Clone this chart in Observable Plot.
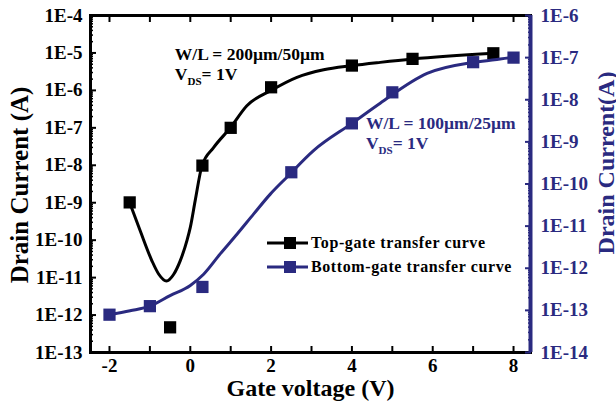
<!DOCTYPE html>
<html><head><meta charset="utf-8">
<script src="https://cdn.jsdelivr.net/npm/d3@7"></script>
<script src="https://cdn.jsdelivr.net/npm/@observablehq/plot@0.6"></script>
<style>
html,body{margin:0;padding:0;background:#fff;}
#chart{position:relative;width:616px;height:410px;overflow:hidden;background:#fff;}
#chart svg{position:absolute;left:0;top:0;}
</style></head><body><div id="chart"></div>
<script>
// ---- data ----
const topGateV = [-1.5, -0.5, 0.3, 1.0, 2.0, 4.0, 5.5, 7.5];
const topGateI = [1.02e-9, 4.7e-13, 9.8e-9, 1.0e-7, 1.21e-6, 4.6e-6, 6.95e-6, 9.8e-6];
const topFitV = [-1.5, -1.24, -0.95, -0.78, -0.59, -0.41, -0.25, -0.08, 0.0, 0.12, 0.29, 0.58, 0.99, 1.4, 2.0, 2.64, 3.3, 4.0, 4.7, 5.5, 7.5];
const topFitI = [1.0e-9, 1.78e-10, 2.82e-11, 1.23e-11, 8.1e-12, 1.23e-11, 2.8e-11, 1.0e-10, 2.2e-10, 1.12e-9, 9.8e-9, 3.0e-8, 1.0e-7, 3.9e-7, 1.0e-6, 2.24e-6, 3.55e-6, 4.57e-6, 5.6e-6, 6.9e-6, 9.8e-6];

const bottomGateV = [-2, -1, 0.3, 2.5, 4.0, 5.0, 7.0, 8.0];
const bottomGateI = [7.9e-14, 1.26e-13, 3.6e-13, 1.9e-10, 2.75e-9, 1.5e-8, 7.8e-8, 1.0e-7];
const bottomFitV = [-2, -1.49, -1.0, -0.5, 0.0, 0.33, 0.74, 1.16, 1.57, 1.98, 2.39, 3.05, 4.0, 4.7, 5.86, 7.05, 7.67, 8.0];
const bottomFitI = [7.9e-14, 9.8e-14, 1.26e-13, 2.24e-13, 3.9e-13, 7.2e-13, 2.19e-12, 6.5e-12, 1.95e-11, 5.75e-11, 1.45e-10, 6.2e-10, 2.75e-9, 8.3e-9, 4.2e-8, 7.8e-8, 9.3e-8, 1.02e-7];

const xTicks = [-2, 0, 2, 4, 6, 8];
const xTickLabels = ["-2", "0", "2", "4", "6", "8"];
const xAllTicks = [-2, -1, 0, 1, 2, 3, 4, 5, 6, 7, 8];
const leftTicks = [1e-4, 1e-5, 1e-6, 1e-7, 1e-8, 1e-9, 1e-10, 1e-11, 1e-12, 1e-13];
const leftTickLabels = ["1E-4", "1E-5", "1E-6", "1E-7", "1E-8", "1E-9", "1E-10", "1E-11", "1E-12", "1E-13"];
const rightTicks = [1e-6, 1e-7, 1e-8, 1e-9, 1e-10, 1e-11, 1e-12, 1e-13, 1e-14];
const rightTickLabels = ["1E-6", "1E-7", "1E-8", "1E-9", "1E-10", "1E-11", "1E-12", "1E-13", "1E-14"];
const seriesNames = ["Top-gate transfer curve", "Bottom-gate transfer curve"];
const leftTitle = "Drain Current (A)";
const rightTitle = "Drain Current(A)";
const xTitle = "Gate voltage (V)";
const topNote = {line1: "W/L = 200\u00b5m/50\u00b5m", x: -0.37, y: 6.3e-6};
const bottomNote = {line1: "W/L = 100\u00b5m/25\u00b5m", x: 4.36, y: 1.95e-9};

// ---- layout / style ----
const W = 616, H = 410;
const M = {top: 15, right: 86, bottom: 58, left: 90};
const xDomain = [-2.47, 8.42];
const BLUE = "#2a2a80";
const FONT = "'Liberation Serif','Times New Roman',serif";

const minorOf = (majors) => {
  const out = [];
  for (const m of majors) for (let k = 2; k <= 9; k++) out.push(m * k);
  return out;
};
const leftMinor = minorOf(leftTicks.slice(1));
const rightMinor = minorOf(rightTicks.slice(1));
const fmtFrom = (ticks, labels) => d => {
  const i = ticks.findIndex(t => Math.abs(Math.log10(t) - Math.log10(d)) < 1e-6);
  return i < 0 ? "" : labels[i];
};

const topPts = topGateV.map((v, i) => ({v, I: topGateI[i]}));
const topFit = topFitV.map((v, i) => ({v, I: topFitI[i]}));
const botPts = bottomGateV.map((v, i) => ({v, I: bottomGateI[i]}));
const botFit = bottomFitV.map((v, i) => ({v, I: bottomFitI[i]}));

const common = {
  width: W, height: H,
  marginTop: M.top, marginRight: M.right, marginBottom: M.bottom, marginLeft: M.left
};

const p1 = Plot.plot({
  ...common,
  x: {domain: xDomain},
  y: {type: "log", domain: [1e-13, 1e-4]},
  style: {fontFamily: FONT, fontWeight: "bold", background: "transparent", color: "black", overflow: "visible"},
  marks: [
    Plot.axisX({ticks: xTicks, tickSize: 0, tickPadding: 6, fontSize: 19, tickFormat: d => xTickLabels[xTicks.indexOf(d)], label: null}),
    Plot.axisX({ticks: xAllTicks, tickSize: -6, strokeWidth: 2, tickFormat: () => "", label: null}),
    Plot.axisX({anchor: "top", ticks: xAllTicks, tickSize: -6, strokeWidth: 2, tickFormat: () => "", label: null}),
    Plot.axisY({ticks: leftTicks, tickSize: 0, tickPadding: 8, fontSize: 19, tickFormat: fmtFrom(leftTicks, leftTickLabels), label: null}),
    Plot.axisY({ticks: leftTicks, tickSize: -6, strokeWidth: 2, tickFormat: () => "", label: null}),
    Plot.axisY({ticks: leftMinor, tickSize: -3, strokeWidth: 1.5, tickFormat: () => "", label: null}),
    Plot.frame({stroke: "black", strokeWidth: 3}),
    Plot.line(topFit, {x: "v", y: "I", curve: "monotone-x", stroke: "black", strokeWidth: 3}),
    Plot.dot(topPts, {x: "v", y: "I", symbol: "square", r: 6.9, fill: "black"}),
    Plot.text([xTitle], {frameAnchor: "bottom", textAnchor: "middle", dy: 43, fontSize: 24, fill: "black"}),
    Plot.text([leftTitle], {frameAnchor: "left", textAnchor: "middle", rotate: -90, dx: -71, dy: 1, fontSize: 25, fill: "black"})
  ]
});

const p2 = Plot.plot({
  ...common,
  x: {domain: xDomain, axis: null},
  y: {type: "log", domain: [1e-14, 1e-6]},
  style: {fontFamily: FONT, fontWeight: "bold", background: "transparent", color: BLUE, overflow: "visible"},
  marks: [
    Plot.axisY({anchor: "right", ticks: rightTicks, tickSize: 0, tickPadding: 10, fontSize: 19, tickFormat: fmtFrom(rightTicks, rightTickLabels), label: null}),
    Plot.axisY({anchor: "right", ticks: rightTicks, tickSize: -6, strokeWidth: 2, tickFormat: () => "", label: null}),
    Plot.axisY({anchor: "right", ticks: rightMinor, tickSize: -3, strokeWidth: 1.5, tickFormat: () => "", label: null}),
    Plot.ruleX([xDomain[1]], {stroke: BLUE, strokeWidth: 4}),
    Plot.line(botFit, {x: "v", y: "I", curve: "monotone-x", stroke: BLUE, strokeWidth: 3}),
    Plot.dot(botPts, {x: "v", y: "I", symbol: "square", r: 6.9, fill: BLUE}),
    Plot.text([rightTitle], {frameAnchor: "right", textAnchor: "middle", rotate: -90, dx: 76, dy: -21, fontSize: 24, fill: BLUE})
  ]
});

const chart = document.getElementById("chart");
chart.appendChild(p1);
chart.appendChild(p2);

// annotations (anchored through the plots' scales)
function note(plot, n, color) {
  const sx = plot.scale("x"), sy = plot.scale("y");
  const x = sx.apply(n.x), y = sy.apply(n.y);
  const g = d3.select(plot).append("g")
    .attr("font-family", FONT).attr("font-weight", "bold").attr("fill", color).attr("text-anchor", "start");
  g.append("text").attr("x", x).attr("y", y).attr("font-size", 17.5).text(n.line1);
  const t = g.append("text").attr("x", x).attr("y", y + 20).attr("font-size", 17.5);
  t.append("tspan").text("V");
  t.append("tspan").attr("dy", 5).attr("font-size", 11).text("DS");
  t.append("tspan").attr("dy", -5).text("= 1V");
}
note(p1, topNote, "black");
note(p2, bottomNote, BLUE);

// legend
{
  const g = d3.select(p2).append("g")
    .attr("font-family", FONT).attr("font-weight", "bold").attr("text-anchor", "start");
  const colors = ["black", BLUE];
  seriesNames.forEach((name, i) => {
    const y = 243 + i * 24;
    g.append("line").attr("x1", 267).attr("x2", 308).attr("y1", y).attr("y2", y)
      .attr("stroke", colors[i]).attr("stroke-width", 3);
    g.append("rect").attr("x", 284).attr("y", y - 6).attr("width", 12).attr("height", 12).attr("fill", colors[i]);
    g.append("text").attr("x", 311).attr("y", y + 5).attr("font-size", 16)
      .attr("letter-spacing", 0.6).attr("fill", "black").text(name);
  });
}
</script>
</body></html>
